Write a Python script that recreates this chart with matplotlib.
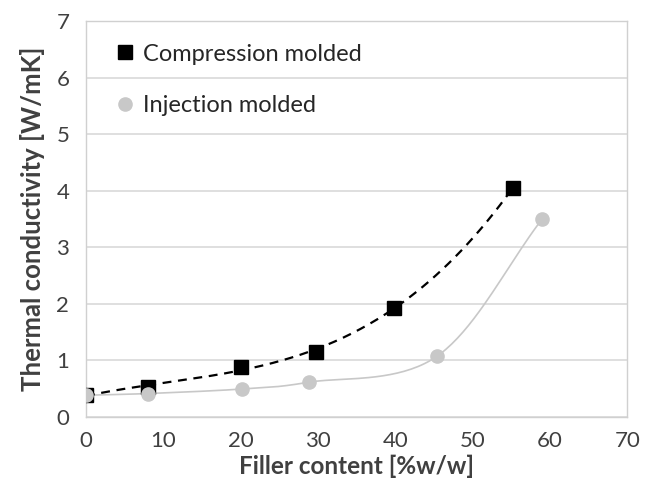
import numpy as np
import matplotlib.pyplot as plt

# data
comp_x = [0, 8, 20, 29.7, 39.8, 55.2]
comp_y = [0.38, 0.52, 0.88, 1.14, 1.93, 4.05]
inj_x = [0, 8, 20.2, 28.8, 45.4, 59.0]
inj_y = [0.38, 0.41, 0.49, 0.61, 1.07, 3.50]

xticks = [0, 10, 20, 30, 40, 50, 60, 70]
yticks = [0, 1, 2, 3, 4, 5, 6, 7]


def smooth_line(xs, ys, n=40):
    """Excel-like smoothed line (Catmull-Rom through the points)"""
    P = np.column_stack([xs, ys]).astype(float)
    P = np.vstack([2 * P[0] - P[1], P, 2 * P[-1] - P[-2]])
    out = []
    for i in range(1, len(P) - 2):
        p0, p1, p2, p3 = P[i - 1], P[i], P[i + 1], P[i + 2]
        t = np.linspace(0, 1, n)[:, None]
        seg = 0.5 * ((2 * p1) + (-p0 + p2) * t +
                     (2 * p0 - 5 * p1 + 4 * p2 - p3) * t ** 2 +
                     (-p0 + 3 * p1 - 3 * p2 + p3) * t ** 3)
        out.append(seg)
    out = np.vstack(out)
    return out[:, 0], out[:, 1]


def poly_trend(xs, ys, deg=3):
    # polynomial trendline
    c = np.polyfit(xs, ys, deg)
    tx = np.linspace(min(xs), max(xs), 200)
    return tx, np.polyval(c, tx)


plt.rcParams['font.family'] = ['Lato', 'DejaVu Sans']

fig = plt.figure(figsize=(6.46, 4.82), dpi=100)
ax = fig.add_axes([0.133, 0.1355, 0.838, 0.8205])

cx, cy = poly_trend(comp_x, comp_y)
ax.plot(cx, cy, color='black', lw=1.6, ls=(0, (4, 3)), zorder=3)
sx, sy = smooth_line(inj_x, inj_y)
ax.plot(sx, sy, color='#c8c8c8', lw=1.2, zorder=2)

ax.plot(comp_x, comp_y, 's', color='black', ms=9.5, zorder=4,
        label='Compression molded')
ax.plot(inj_x, inj_y, 'o', color='#c8c8c8', ms=9.5, mec='#c8c8c8', zorder=4,
        label='Injection molded')

ax.set_xlim(0, 70)
ax.set_ylim(0, 7)
ax.set_xticks(xticks)
ax.set_yticks(yticks)
ax.grid(axis='y', color='#d9d9d9', lw=1.2)
ax.set_axisbelow(True)
ax.tick_params(axis='x', length=0, labelsize=16, colors='#404040', pad=10)
ax.tick_params(axis='y', length=0, labelsize=16, colors='#404040', pad=12)
for s in ax.spines.values():
    s.set_color('#d0d0d0')
    s.set_linewidth(1.0)

ax.set_xlabel('Filler content [%w/w]', fontsize=17.5, fontweight='bold',
              color='#404040', labelpad=3)
ax.set_ylabel('Thermal conductivity [W/mK]', fontsize=18.5, fontweight='bold',
              color='#404040', labelpad=8)

leg = ax.legend(loc='upper left', bbox_to_anchor=(0.02, 0.985), frameon=False,
                fontsize=17, handletextpad=0.25, labelspacing=1.3,
                handlelength=1.0, borderaxespad=0.3)
for t in leg.get_texts():
    t.set_color('#262626')

fig.savefig('out.png', dpi=100)
